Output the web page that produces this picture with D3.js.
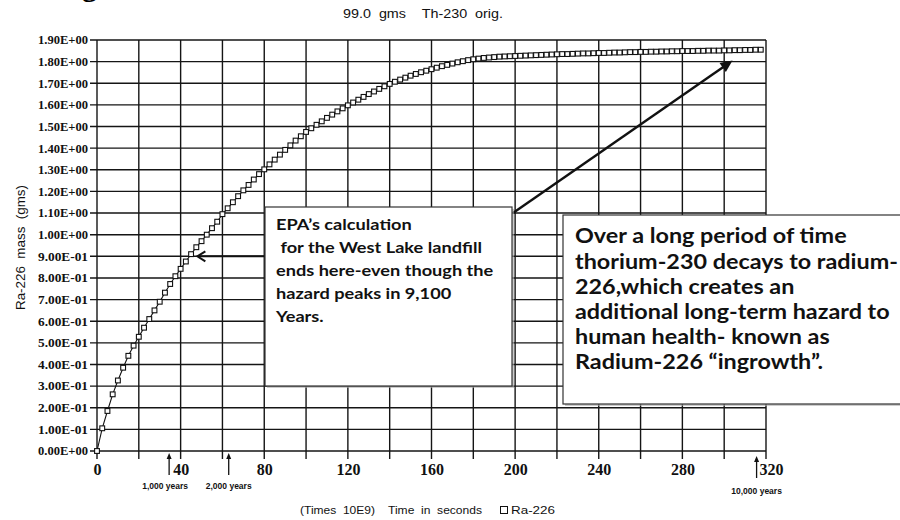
<!DOCTYPE html>
<html>
<head>
<meta charset="utf-8">
<script src="https://cdn.jsdelivr.net/npm/d3@7"></script>
<style>
  body { margin: 0; background: #fff; }
  svg text { white-space: pre; }
</style>
</head>
<body>
<svg id="chart"></svg>
<script>
const width = 900;
const height = 520;

// time axis (Times 10E9 seconds) and Ra-226 mass (gms)
const timeValues = [
  0, 2.5, 5, 7.5, 10, 12.5, 15, 17.5, 20, 22.5, 25, 27.5, 30, 32.5, 35, 37.5,
  40, 42.5, 45, 47.5, 50, 52.5, 55, 57.5, 60, 62.5, 65, 67.5, 70, 72.5, 75, 77.5,
  80, 82.5, 85, 87.5, 90, 92.5, 95, 97.5, 100, 102.5, 105, 107.5, 110, 112.5, 115, 117.5,
  120, 122.5, 125, 127.5, 130, 132.5, 135, 137.5, 140, 142.5, 145, 147.5, 150, 152.5, 155, 157.5,
  160, 162.5, 165, 167.5, 170, 172.5, 175, 177.5, 180, 182.5, 185, 187.5, 190, 192.5, 195, 197.5,
  200, 202.5, 205, 207.5, 210, 212.5, 215, 217.5, 220, 222.5, 225, 227.5, 230, 232.5, 235, 237.5,
  240, 242.5, 245, 247.5, 250, 252.5, 255, 257.5, 260, 262.5, 265, 267.5, 270, 272.5, 275, 277.5,
  280, 282.5, 285, 287.5, 290, 292.5, 295, 297.5, 300, 302.5, 305, 307.5, 310, 312.5, 315, 317.5
];
const raMass = [
  0.000, 0.105, 0.185, 0.262, 0.326, 0.385, 0.440, 0.487, 0.528, 0.570, 0.610, 0.650, 0.690, 0.732, 0.772, 0.808,
  0.842, 0.876, 0.910, 0.942, 0.970, 1.000, 1.030, 1.060, 1.095, 1.122, 1.150, 1.178, 1.205, 1.230, 1.255, 1.280,
  1.302, 1.325, 1.347, 1.370, 1.392, 1.413, 1.435, 1.455, 1.475, 1.492, 1.508, 1.524, 1.540, 1.555, 1.570, 1.584,
  1.598, 1.611, 1.624, 1.637, 1.650, 1.662, 1.674, 1.686, 1.697, 1.707, 1.717, 1.726, 1.735, 1.743, 1.751, 1.758,
  1.765, 1.772, 1.779, 1.785, 1.791, 1.797, 1.802, 1.807, 1.811, 1.814, 1.817, 1.819, 1.821, 1.823, 1.824, 1.825,
  1.826, 1.827, 1.828, 1.829, 1.830, 1.831, 1.832, 1.833, 1.834, 1.835, 1.835, 1.836, 1.837, 1.838, 1.838, 1.839,
  1.840, 1.840, 1.841, 1.842, 1.842, 1.843, 1.844, 1.844, 1.845, 1.845, 1.846, 1.846, 1.847, 1.847, 1.848, 1.848,
  1.849, 1.849, 1.849, 1.850, 1.850, 1.851, 1.851, 1.851, 1.852, 1.852, 1.853, 1.853, 1.854, 1.854, 1.855, 1.855
];

const xGridValues = [0, 20, 40, 60, 80, 100, 120, 140, 160, 180, 200, 220, 240, 260, 280, 300, 320];
const xLabelValues = [0, 40, 80, 120, 160, 200, 240, 280, 320];
const yTickValues = [0, 0.1, 0.2, 0.3, 0.4, 0.5, 0.6, 0.7, 0.8, 0.9, 1.0,
  1.1, 1.2, 1.3, 1.4, 1.5, 1.6, 1.7, 1.8, 1.9];

const yearMarks = [34.5, 63, 315.5];
const yearLabels = ['1,000 years', '2,000 years', '10,000 years'];

const chartTitle = '99.0  gms    Th-230  orig.';
const yTitle = 'Ra-226  mass  (gms)';
const xTitle = ['(Times  10E9)', 'Time  in  seconds'];
const seriesName = 'Ra-226';

const epaNote = ['EPA\u2019s calculation', ' for the West Lake landfill',
  'ends here-even though the', 'hazard peaks in 9,100', 'Years.'];
const ingrowthNote = ['Over a long period of time', 'thorium-230 decays to radium-',
  '226,which creates an', 'additional long-term hazard to',
  'human health- known as', 'Radium-226 \u201cingrowth\u201d.'];

const svg = d3.select('#chart')
  .attr('width', width)
  .attr('height', height);

const x = d3.scaleLinear().domain([0, 320]).range([97, 766]);
const y = d3.scaleLinear().domain([0, 1.9]).range([451, 40]);

const fmtSci = v => {
  if (v === 0) return '0.00E+00';
  const e = Math.floor(Math.log10(v) + 1e-9);
  const m = (v / Math.pow(10, e)).toFixed(2);
  const sign = e < 0 ? '-' : '+';
  return `${m}E${sign}${String(Math.abs(e)).padStart(2, '0')}`;
};

// cut-off heading letter at the very top
svg.append('text')
  .attr('x', 82).attr('y', -4)
  .attr('font-family', 'Liberation Serif')
  .attr('font-weight', 'bold')
  .attr('font-size', 30)
  .text('g');

svg.append('text')
  .attr('x', 343).attr('y', 18)
  .attr('font-family', 'Liberation Sans')
  .attr('font-size', 12)
  .attr('textLength', 160)
  .attr('lengthAdjust', 'spacingAndGlyphs')
  .attr('fill', '#111')
  .text(chartTitle);

// grid
const grid = svg.append('g').attr('stroke', '#151515').attr('stroke-width', 1.4);
grid.selectAll('.vgrid')
  .data(xGridValues)
  .join('line')
  .attr('x1', d => x(d)).attr('x2', d => x(d))
  .attr('y1', y(1.9)).attr('y2', y(0) + 8);
grid.selectAll('.hgrid')
  .data(yTickValues)
  .join('line')
  .attr('x1', x(0) - 7).attr('x2', x(320))
  .attr('y1', d => y(d)).attr('y2', d => y(d));

// y axis labels
const yAxis = d3.axisLeft(y)
  .tickValues(yTickValues)
  .tickSize(0)
  .tickPadding(9)
  .tickFormat(fmtSci);
const yg = svg.append('g')
  .attr('transform', `translate(${x(0)},0)`)
  .call(yAxis);
yg.select('.domain').remove();
yg.selectAll('text')
  .attr('font-family', 'Liberation Serif')
  .attr('font-weight', 'bold')
  .attr('font-size', 12)
  .attr('textLength', 50)
  .attr('lengthAdjust', 'spacingAndGlyphs')
  .attr('fill', '#111');

// x axis labels
const xAxis = d3.axisBottom(x)
  .tickValues(xLabelValues)
  .tickSize(0)
  .tickPadding(13);
const xg = svg.append('g')
  .attr('transform', `translate(0,${y(0)})`)
  .call(xAxis);
xg.select('.domain').remove();
xg.selectAll('text')
  .attr('font-family', 'Liberation Serif')
  .attr('font-weight', 'bold')
  .attr('font-size', 16)
  .attr('fill', '#111')
  .attr('dx', d => d === 320 ? 5 : 0);

// series
const points = timeValues.map((t, i) => ({ t, m: raMass[i] }));
const line = d3.line()
  .x(d => x(d.t))
  .y(d => y(d.m));
svg.append('path')
  .datum(points)
  .attr('fill', 'none')
  .attr('stroke', '#111')
  .attr('stroke-width', 1.1)
  .attr('d', line);
svg.append('g')
  .selectAll('rect')
  .data(points)
  .join('rect')
  .attr('x', d => x(d.t) - 2.4)
  .attr('y', d => y(d.m) - 2.4)
  .attr('width', 4.8)
  .attr('height', 4.8)
  .attr('fill', '#fff')
  .attr('stroke', '#111')
  .attr('stroke-width', 1.1);

// arrow head helper
const arrowHead = (g, x0, y0, angle, len, half, filled) => {
  const a = angle;
  const p1 = [x0 - len * Math.cos(a) + half * Math.sin(a), y0 - len * Math.sin(a) - half * Math.cos(a)];
  const p2 = [x0 - len * Math.cos(a) - half * Math.sin(a), y0 - len * Math.sin(a) + half * Math.cos(a)];
  if (filled) {
    g.append('path')
      .attr('d', `M${p1}L${x0},${y0}L${p2}Z`)
      .attr('fill', '#111');
  } else {
    g.append('path')
      .attr('d', `M${p1}L${x0},${y0}L${p2}`)
      .attr('fill', 'none')
      .attr('stroke', '#111')
      .attr('stroke-width', 2);
  }
};

// year arrows under the axis
const marks = svg.append('g');
yearMarks.forEach((t, i) => {
  const last = i === yearMarks.length - 1;
  const top = y(0) + (last ? 5 : 2);
  const bottom = top + 22;
  marks.append('line')
    .attr('x1', x(t)).attr('x2', x(t))
    .attr('y1', bottom).attr('y2', top + 4)
    .attr('stroke', '#111').attr('stroke-width', 1.3);
  arrowHead(marks, x(t), top, -Math.PI / 2, 6, 2.5, true);
  marks.append('text')
    .attr('x', x(t) + (i === 0 ? -4 : 0))
    .attr('y', bottom + (last ? 16 : 14))
    .attr('text-anchor', 'middle')
    .attr('font-family', 'Liberation Sans')
    .attr('font-weight', 'bold')
    .attr('font-size', 8.5)
    .attr('fill', '#111')
    .text(yearLabels[i]);
});

// axis titles
svg.append('text')
  .attr('transform', `translate(25,${(y(0) + y(1.9)) / 2 + 2}) rotate(-90)`)
  .attr('text-anchor', 'middle')
  .attr('font-family', 'Liberation Sans')
  .attr('font-size', 13)
  .attr('textLength', 125)
  .attr('lengthAdjust', 'spacingAndGlyphs')
  .attr('fill', '#111')
  .text(yTitle);

const xt = svg.append('g')
  .attr('font-family', 'Liberation Sans')
  .attr('font-size', 11)
  .attr('fill', '#111');
xt.append('text').attr('x', 300).attr('y', 514)
  .attr('textLength', 75).attr('lengthAdjust', 'spacingAndGlyphs')
  .text(xTitle[0]);
xt.append('text').attr('x', 388).attr('y', 514)
  .attr('textLength', 94).attr('lengthAdjust', 'spacingAndGlyphs')
  .text(xTitle[1]);
xt.append('rect')
  .attr('x', 500.5).attr('y', 506.5)
  .attr('width', 7).attr('height', 7)
  .attr('fill', '#fff').attr('stroke', '#111').attr('stroke-width', 1);
xt.append('text').attr('x', 511).attr('y', 514)
  .attr('textLength', 44).attr('lengthAdjust', 'spacingAndGlyphs')
  .text(seriesName);

// annotation boxes
const notes = svg.append('g');
const drawBox = (bx, by, bw, bh) => {
  notes.append('rect')
    .attr('x', bx + 2).attr('y', by + 2)
    .attr('width', bw).attr('height', bh)
    .attr('fill', '#aaa').attr('opacity', 0.6);
  notes.append('rect')
    .attr('x', bx).attr('y', by)
    .attr('width', bw).attr('height', bh)
    .attr('fill', '#fff')
    .attr('stroke', '#333')
    .attr('stroke-width', 1.2);
};

// block of lines, stretched so that one reference line gets its measured width
const drawNote = (lines, tx, ty, lineStep, size, refLine, refWidth) => {
  const g = notes.append('g');
  const texts = g.selectAll('text')
    .data(lines)
    .join('text')
    .attr('x', 0)
    .attr('y', (d, i) => ty + i * lineStep)
    .attr('font-family', 'Lato')
    .attr('font-weight', 'bold')
    .attr('font-size', size)
    .attr('fill', '#111')
    .text(d => d);
  const w = texts.nodes()[refLine].getComputedTextLength();
  const sx = w > 0 ? refWidth / w : 1;
  g.attr('transform', `translate(${tx},0) scale(${sx},1)`);
};

// arrow to the EPA end point
const epaTip = [x(48), y(0.9)];
notes.append('line')
  .attr('x1', 265).attr('y1', epaTip[1])
  .attr('x2', epaTip[0] + 1).attr('y2', epaTip[1])
  .attr('stroke', '#111').attr('stroke-width', 2);
arrowHead(notes, epaTip[0], epaTip[1], Math.PI, 8, 5, false);

// arrow to the peak
const peakTip = [x(304), y(1.805)];
const from = [513, 213];
const ang = Math.atan2(peakTip[1] - from[1], peakTip[0] - from[0]);
notes.append('line')
  .attr('x1', from[0]).attr('y1', from[1])
  .attr('x2', peakTip[0] - 6 * Math.cos(ang)).attr('y2', peakTip[1] - 6 * Math.sin(ang))
  .attr('stroke', '#111').attr('stroke-width', 2.4);
arrowHead(notes, peakTip[0], peakTip[1], ang, 12, 5.5, true);

drawBox(265, 207, 247, 179);
drawNote(epaNote, 276, 230.5, 22.9, 16, 1, 206);

drawBox(563, 215, 345, 189);
drawNote(ingrowthNote, 575, 243.5, 25.2, 20.8, 1, 323);
</script>
</body>
</html>
